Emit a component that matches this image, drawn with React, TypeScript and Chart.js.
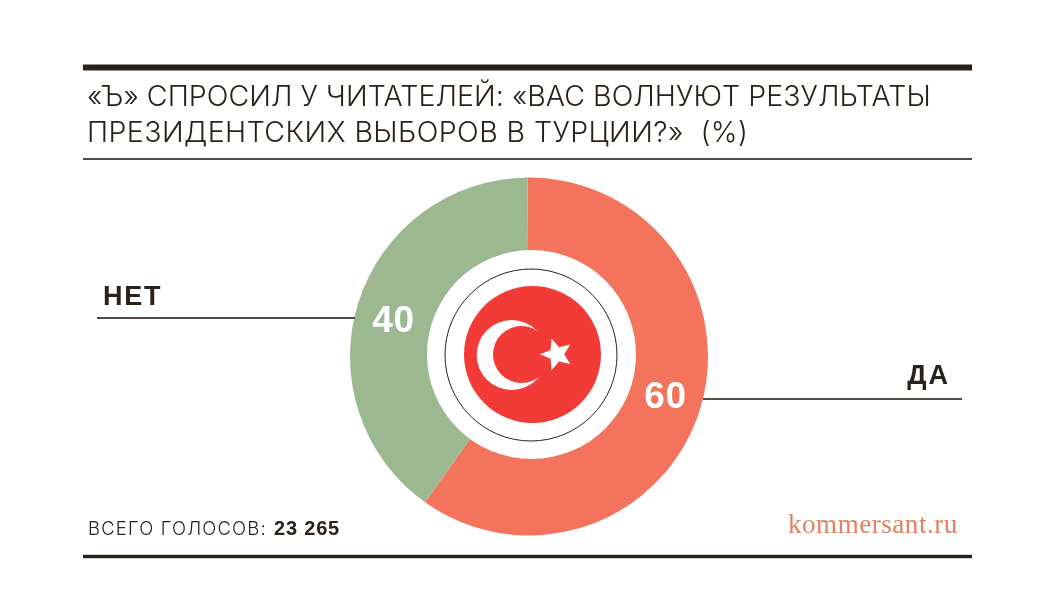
import { useEffect, useRef } from "react";
import Chart from "chart.js/auto";
import type { Plugin } from "chart.js";

const categories = ["ДА", "НЕТ"];
const shares = [60, 40];
const sliceColors = ["#F4735C", "#9CB890"];
const titleLines = [
  "«Ъ» СПРОСИЛ У ЧИТАТЕЛЕЙ: «ВАС ВОЛНУЮТ РЕЗУЛЬТАТЫ",
  "ПРЕЗИДЕНТСКИХ ВЫБОРОВ В ТУРЦИИ?»  (%)",
];
const totalLabel = "ВСЕГО ГОЛОСОВ:";
const totalValue = "23 265";
const site = "kommersant.ru";

const INK = "#2A2118";
const LIGHT = "Inter, sans-serif";
const BOLD = "'Liberation Sans', sans-serif";

function disc(ctx: CanvasRenderingContext2D, x: number, y: number, r: number, color: string) {
  ctx.fillStyle = color;
  ctx.beginPath();
  ctx.arc(x, y, r, 0, Math.PI * 2);
  ctx.fill();
}

function rule(ctx: CanvasRenderingContext2D, x1: number, x2: number, y: number, h: number) {
  ctx.fillStyle = INK;
  ctx.fillRect(x1, y - h / 2, x2 - x1, h);
}

function text(
  ctx: CanvasRenderingContext2D,
  value: string,
  x: number,
  y: number,
  font: string,
  color: string,
  spacing = "0px",
  align: CanvasTextAlign = "left",
) {
  ctx.font = font;
  ctx.fillStyle = color;
  ctx.textAlign = align;
  ctx.textBaseline = "alphabetic";
  (ctx as any).letterSpacing = spacing;
  ctx.fillText(value, x, y);
  (ctx as any).letterSpacing = "0px";
}

const decorPlugin: Plugin<"doughnut"> = {
  id: "decor",
  afterDatasetsDraw(chart) {
    const { ctx } = chart;
    ctx.save();

    // rules
    rule(ctx, 83, 972, 67.5, 6);
    rule(ctx, 83, 972, 159, 1.6);
    rule(ctx, 83, 972, 556.5, 3.4);

    text(ctx, titleLines[0], 87, 106, "300 28.5px " + LIGHT, INK, "0.06px");
    text(ctx, titleLines[1], 87, 142, "300 28.5px " + LIGHT, INK, "0.43px");

    // flag in the hole
    disc(ctx, 531.5, 354.5, 104.5, "#FFFFFF");
    ctx.strokeStyle = "#2A2118";
    ctx.lineWidth = 1;
    ctx.beginPath();
    ctx.arc(531, 355, 86, 0, Math.PI * 2);
    ctx.stroke();
    disc(ctx, 532.5, 354.5, 68.5, "#F23B37");
    disc(ctx, 511.7, 355, 35, "#FFFFFF");
    disc(ctx, 521.5, 354.5, 28.5, "#F23B37");
    ctx.fillStyle = "#FFFFFF";
    ctx.beginPath();
    for (let i = 0; i < 10; i++) {
      const r = i % 2 === 0 ? 16.7 : 7.5;
      const a = Math.PI + (i * Math.PI) / 5;
      const px = 556.7 + r * Math.cos(a);
      const py = 354.3 + r * Math.sin(a);
      if (i === 0) ctx.moveTo(px, py);
      else ctx.lineTo(px, py);
    }
    ctx.closePath();
    ctx.fill();

    // leaders and category labels
    rule(ctx, 97, 355, 318, 1.6);
    rule(ctx, 703, 962, 399, 1.6);
    text(ctx, categories[1], 103, 304.5, "700 27px " + BOLD, INK, "1.8px");
    text(ctx, categories[0], 950, 383.5, "700 27px " + BOLD, INK, "2px", "right");

    // slice values
    text(ctx, String(shares[1]), 393.5, 332, "700 37px " + BOLD, "#FFFFFF", "0.6px", "center");
    text(ctx, String(shares[0]), 665.5, 408, "700 37px " + BOLD, "#FFFFFF", "0.6px", "center");

    // footer
    text(ctx, totalLabel, 88, 535, "300 18.5px " + LIGHT, INK, "1.15px");
    text(ctx, totalValue, 274, 535, "700 20px " + BOLD, INK, "0.8px");
    text(ctx, site, 788, 533, "27px 'Liberation Serif', serif", "#E5805F", "0.55px");

    ctx.restore();
  },
};

export default function App() {
  const canvasRef = useRef<HTMLCanvasElement | null>(null);

  useEffect(() => {
    const canvas = canvasRef.current;
    if (!canvas) return;
    const chart = new Chart(canvas, {
      type: "doughnut",
      data: {
        labels: categories,
        datasets: [{ data: shares, backgroundColor: sliceColors, borderWidth: 0 }],
      },
      plugins: [decorPlugin],
      options: {
        animation: false,
        responsive: false,
        cutout: 90,
        rotation: -0.5,
        layout: { padding: { left: 350, right: 337, top: 177.5, bottom: 80.5 } },
        plugins: {
          legend: { display: false },
          tooltip: { enabled: false },
        },
      },
    });
    return () => chart.destroy();
  }, []);

  return (
    <div style={{ position: "fixed", left: 0, top: 0, width: 1045, height: 616, background: "#FFFFFF" }}>
      <canvas ref={canvasRef} width={1045} height={616} style={{ display: "block" }} />
    </div>
  );
}
